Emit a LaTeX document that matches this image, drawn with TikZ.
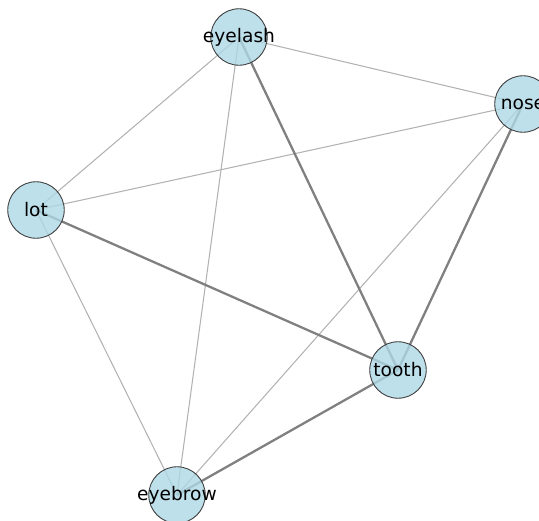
\documentclass[tikz,border=0pt]{standalone}
\usepackage{fontspec}
\setmainfont{DejaVu Sans}
\usepackage{xcolor}
\usepackage{tikz}
\usetikzlibrary{positioning, backgrounds}

\definecolor{nodeblue}{RGB}{173,216,230}
\definecolor{ringgray}{RGB}{60,60,60}

\tikzset{
  vertex/.style={circle, minimum size=1.13cm, inner sep=0pt, draw=ringgray, line width=0.5pt,
    fill=nodeblue, fill opacity=0.8,
    label={[font=\fontsize{10.6}{12}\selectfont, inner sep=0pt]center:#1}},
  strong/.style={draw=gray, line width=1.3pt},
  weak/.style={draw=gray!60, line width=0.6pt}
}

\begin{document}
\begin{tikzpicture}[x=0.02cm, y=-0.02cm]
  \useasboundingbox (0,0) rectangle (539,521);
  \clip (0,0) rectangle (539,521);

  % the five words
  \node[vertex=eyelash] (eyelash) at (239,37) {};
  \node[vertex=nose] (nose) at (523,104) {};
  \node[vertex=lot] (lot) at (36,210) {};
  \node[vertex=tooth] (tooth) at (398,370) {};
  \node[vertex=eyebrow] (eyebrow) at (177,495) {};

  % links, kept under the circles
  \begin{scope}[on background layer]
    \draw[weak] (eyelash.center) -- (nose.center);
    \draw[weak] (eyelash.center) -- (lot.center);
    \draw[weak] (eyelash.center) -- (eyebrow.center);
    \draw[weak] (nose.center) -- (lot.center);
    \draw[weak] (nose.center) -- (eyebrow.center);
    \draw[weak] (lot.center) -- (eyebrow.center);
    \draw[strong] (eyelash.center) -- (tooth.center);
    \draw[strong] (nose.center) -- (tooth.center);
    \draw[strong] (lot.center) -- (tooth.center);
    \draw[strong] (tooth.center) -- (eyebrow.center);
  \end{scope}
\end{tikzpicture}
\end{document}
